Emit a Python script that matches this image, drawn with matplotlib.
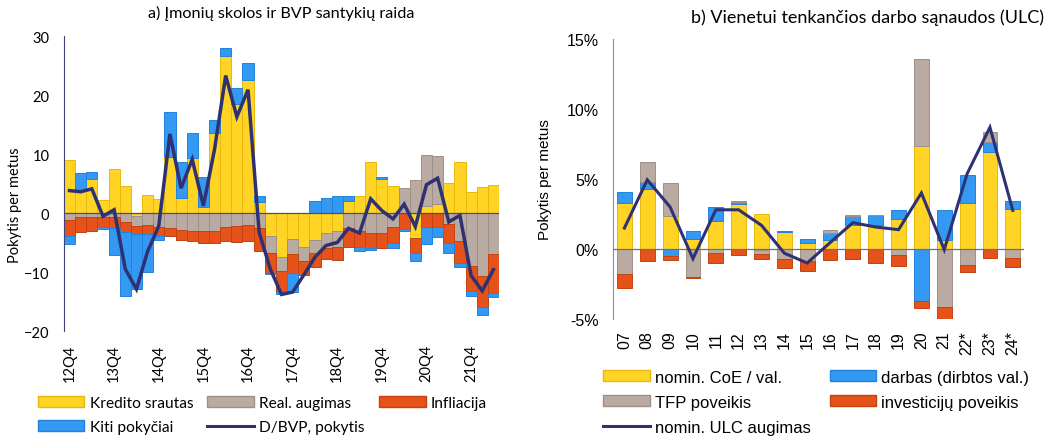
import numpy as np
import matplotlib
matplotlib.use('Agg')
import matplotlib.pyplot as plt
import matplotlib.patches as mpatches
from matplotlib.lines import Line2D
from matplotlib.ticker import FuncFormatter

# ── left panel data: a) corporate debt / GDP decomposition, quarterly ──────
quarters = [f"{y:02d}Q{q}" for y, q in
            [(12, 4)] + [(y, q) for y in range(13, 22) for q in (1, 2, 3, 4)] + [(22, 1), (22, 2)]]
kredito = [9.0, 3.8, 5.8, 2.2, 7.5, 4.5, -0.45, 3.05, 2.4, 9.5,
           2.5, 9.35, 1.0, 13.5, 26.6, 18.4, 22.6, 1.9, -3.9, -7.4,
           -4.4, -5.8, -4.5, -3.4, -3.0, 2.1, 2.95, 8.6, 5.8, 4.65,
           0.0, -4.3, 1.25, 1.5, 5.1, 8.6, 3.5, 4.35, 4.8]
real_aug = [-1.1, -0.75, -0.6, -0.6, -0.75, -1.45, -1.8, -2.05, -2.3, -2.5,
            -2.9, -3.0, -3.1, -3.0, -2.4, -2.15, -2.0, -2.6, -2.8, -2.5,
            -2.6, -2.4, -2.3, -2.5, -2.7, -2.6, -3.0, -3.45, -3.45, -2.3,
            4.2, 5.65, 8.6, 8.1, -1.9, -4.8, -8.95, -10.65, -7.0]
infliacija = [-2.75, -2.55, -2.4, -1.8, -1.85, -1.8, -1.3, -1.5, -1.55, -1.35,
              -1.6, -1.75, -1.9, -2.0, -2.3, -2.75, -2.7, -3.8, -3.4, -3.3,
              -3.1, -2.3, -2.3, -1.9, -2.2, -3.1, -2.8, -2.5, -2.5, -2.8,
              -2.7, -2.5, -2.45, -2.45, -3.1, -3.6, -4.25, -5.35, -6.6]
kiti = [-1.4, 3.0, 1.2, -0.25, -4.5, -10.9, -9.3, -6.45, -0.65, 7.6,
        6.1, 4.15, 5.1, 2.25, 1.4, 2.8, 2.9, 0.9, -0.3, -0.6,
        -3.3, 0.0, 2.1, 2.5, 2.95, 0.85, -0.6, -0.25, 0.3, -0.85,
        -0.35, -1.3, -2.85, -1.65, -1.8, -0.7, -0.85, -1.3, -0.7]
d_bvp = [3.8, 3.6, 4.1, -0.55, 0.55, -9.5, -12.9, -6.5, -2.2, 13.4,
         4.2, 9.1, 1.2, 10.8, 23.3, 16.3, 20.9, -3.3, -9.5, -13.8,
         -13.4, -10.5, -7.5, -5.5, -5.0, -2.6, -3.4, 2.4, 0.4, -1.0,
         1.5, -2.3, 4.8, 5.9, -1.5, -0.4, -10.6, -13.2, -9.6]

# ── right panel data: b) unit labour costs decomposition, annual (%) ───────
years = ['07', '08', '09', '10', '11', '12', '13', '14', '15', '16',
         '17', '18', '19', '20', '21', '22*', '23*', '24*']
coe = [3.28, 4.25, 2.33, 0.74, 2.0, 3.23, 2.5, 1.2, 0.45, 0.67,
       1.69, 1.69, 2.11, 7.39, 0.62, 3.3, 6.91, 2.83]
darbas = [0.78, 0.52, -0.52, 0.54, 1.0, 0.12, -0.1, 0.1, 0.29, 0.47,
          0.66, 0.71, 0.64, -3.7, 2.13, 2.02, 0.76, 0.59]
tfp = [-1.78, 1.43, 2.4, -2.0, -0.28, 0.09, -0.23, -0.74, -0.88, 0.19,
       0.1, 0.0, -0.4, 6.17, -4.16, -1.12, 0.67, -0.64]
invest = [-1.0, -0.88, -0.28, -0.1, -0.72, -0.45, -0.41, -0.59, -0.69, -0.8,
          -0.74, -0.97, -0.81, -0.55, -0.92, -0.54, -0.62, -0.66]
ulc = [1.5, 4.94, 3.0, -0.69, 2.8, 2.8, 1.69, -0.3, -1.0, 0.45,
       1.88, 1.57, 1.38, 4.0, -0.05, 5.37, 8.69, 2.76]

YELLOW = ('#FFD424', '#E8B90C')
GRAY = ('#B9AAA2', '#A08F87')
ORANGE = ('#E5521A', '#C4420F')
BLUE = ('#3399F3', '#2283DD')
NAVY = '#2F3272'


def stacked(ax, x, series, width):
    """Excel-style stacking: positives pile up, negatives pile down."""
    pos = np.zeros(len(x))
    neg = np.zeros(len(x))
    for vals, (fc, ec) in series:
        v = np.asarray(vals, dtype=float)
        bottom = np.where(v >= 0, pos, neg)
        ax.bar(x, v, width=width, bottom=bottom, color=fc, edgecolor=ec,
               linewidth=0.7, zorder=2)
        pos = np.where(v >= 0, pos + v, pos)
        neg = np.where(v < 0, neg + v, neg)


fig = plt.figure(figsize=(10.45, 4.39), dpi=100)

# ═══ left panel ═══════════════════════════════════════════════════════════
LF = 'Lato'
axL = fig.add_axes([0.0612, 0.2437, 0.4163, 0.672])
xL = np.arange(len(quarters))
stacked(axL, xL, [(kredito, YELLOW), (real_aug, GRAY),
                  (infliacija, ORANGE), (kiti, BLUE)], width=1.0)
axL.plot(xL, d_bvp, color=NAVY, lw=2.5, zorder=4, solid_joinstyle='miter')
axL.axhline(0, color='#4a4e6e', lw=0.9, zorder=3)
axL.set_xlim(-0.5, len(quarters) - 0.5)
axL.set_ylim(-20, 30)
axL.set_yticks([-20, -10, 0, 10, 20, 30])
axL.set_xticks(xL[::4])
axL.set_xticklabels(quarters[::4], rotation=90, fontfamily=LF, fontsize=10.5)
for lab in axL.get_yticklabels():
    lab.set_fontfamily(LF)
    lab.set_fontsize(10.5)
axL.tick_params(axis='y', length=0, pad=10.5)
axL.tick_params(axis='x', length=0, pad=9)
for s in ('top', 'right', 'bottom'):
    axL.spines[s].set_visible(False)
axL.spines['left'].set_color('#3d4378')
axL.set_ylabel('Pokytis per metus', fontfamily=LF, fontsize=10.5)
axL.yaxis.set_label_coords(-0.097, 0.43)
axL.set_title('a) Įmonių skolos ir BVP santykių raida', fontfamily=LF,
              fontsize=11.7, pad=14)

hL = [mpatches.Patch(facecolor=YELLOW[0], edgecolor=YELLOW[1], label='Kredito srautas'),
      mpatches.Patch(facecolor=BLUE[0], edgecolor=BLUE[1], label='Kiti pokyčiai'),
      mpatches.Patch(facecolor=GRAY[0], edgecolor=GRAY[1], label='Real. augimas'),
      Line2D([], [], color=NAVY, lw=2.2, label='D/BVP, pokytis'),
      mpatches.Patch(facecolor=ORANGE[0], edgecolor=ORANGE[1], label='Infliacija')]
fig.legend(handles=hL, loc='upper left', bbox_to_anchor=(0.036, 0.096), ncol=3,
           frameon=False, prop={'family': LF, 'size': 11.2}, handlelength=3.0,
           handleheight=0.65, handletextpad=0.35, columnspacing=0.9,
           labelspacing=0.65, borderaxespad=0, borderpad=0)

# ═══ right panel ══════════════════════════════════════════════════════════
RF = 'Liberation Sans'
axR = fig.add_axes([0.5866, 0.2711, 0.3935, 0.6378])
xR = np.arange(len(years))
stacked(axR, xR, [(coe, YELLOW), (darbas, BLUE), (tfp, GRAY),
                  (invest, ORANGE)], width=0.65)
axR.plot(xR, ulc, color=NAVY, lw=2.2, zorder=4, solid_joinstyle='miter')
axR.axhline(0, color='#6a6e8e', lw=0.9, zorder=3)
axR.set_xlim(-0.5, len(years) - 0.5)
axR.set_ylim(-5, 15)
axR.set_yticks([-5, 0, 5, 10, 15])
axR.yaxis.set_major_formatter(FuncFormatter(lambda v, p: f'{v:.0f}%'))
axR.set_xticks(xR)
axR.set_xticklabels(years, rotation=90, fontfamily=RF, fontsize=11.5)
for lab in axR.get_yticklabels():
    lab.set_fontfamily(RF)
    lab.set_fontsize(11.5)
axR.tick_params(axis='y', length=0, pad=10.5)
axR.tick_params(axis='x', length=0, pad=8)
for s in ('top', 'right', 'bottom'):
    axR.spines[s].set_visible(False)
axR.spines['left'].set_color('#8a8eaa')
axR.set_ylabel('Pokytis per metus', fontfamily=RF, fontsize=11)
axR.yaxis.set_label_coords(-0.148, 0.5)
axR.set_title('b) Vienetui tenkančios darbo sąnaudos (ULC)', fontfamily=LF,
              fontsize=13, pad=12, x=0.62)

hR = [mpatches.Patch(facecolor=YELLOW[0], edgecolor=YELLOW[1], label='nomin. CoE / val.'),
      mpatches.Patch(facecolor=GRAY[0], edgecolor=GRAY[1], label='TFP poveikis'),
      Line2D([], [], color=NAVY, lw=2.2, label='nomin. ULC augimas'),
      mpatches.Patch(facecolor=BLUE[0], edgecolor=BLUE[1], label='darbas (dirbtos val.)'),
      mpatches.Patch(facecolor=ORANGE[0], edgecolor=ORANGE[1], label='investicijų poveikis')]
fig.legend(handles=hR, loc='upper left', bbox_to_anchor=(0.577, 0.156), ncol=2,
           frameon=False, prop={'family': RF, 'size': 12}, handlelength=2.8,
           handleheight=0.65, handletextpad=0.3, columnspacing=1.15,
           labelspacing=0.6, borderaxespad=0, borderpad=0)

fig.savefig('out.png', dpi=100)
